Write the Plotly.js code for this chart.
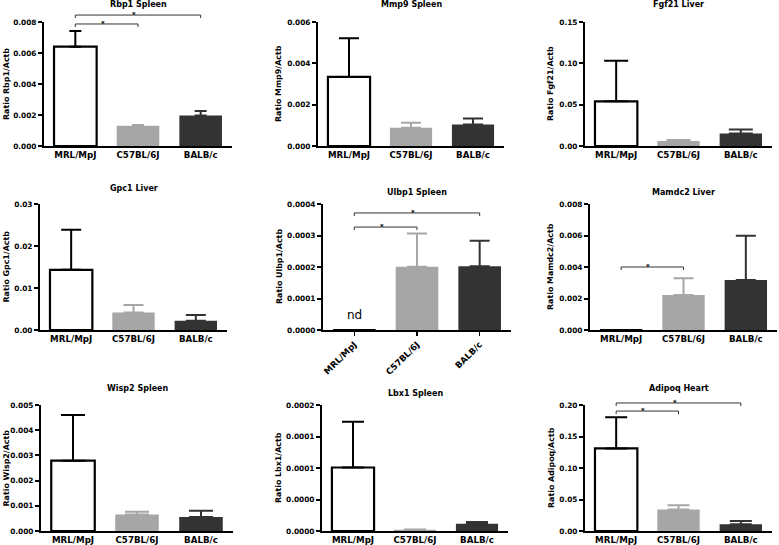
<!DOCTYPE html>
<html>
<head>
<meta charset="utf-8">
<script src="https://cdn.plot.ly/plotly-3.0.1.min.js"></script>
<style>html,body{margin:0;padding:0;background:#fff;}#chart{width:779px;height:545px;}</style>
</head>
<body>
<div id="chart"></div>
<script>
// ---- data ----
const strains = ['MRL/MpJ', 'C57BL/6J', 'BALB/c'];

const rbp1Mean = [0.00641, 0.00131, 0.00196];
const rbp1Sem  = [0.00101, 0.00004, 0.00030];

const mmp9Mean = [0.00334, 0.00088, 0.00104];
const mmp9Sem  = [0.00187, 0.00024, 0.00029];

const fgf21Mean = [0.0541, 0.0060, 0.0152];
const fgf21Sem  = [0.0490, 0.0012, 0.0049];

const gpc1Mean = [0.01432, 0.00414, 0.00223];
const gpc1Sem  = [0.00955, 0.00183, 0.00135];

const ulbp1Mean = [0, 0.000201, 0.000202];
const ulbp1Sem  = [0, 0.000105, 0.000081];

const mamdc2Mean = [0, 0.00223, 0.00318];
const mamdc2Sem  = [0, 0.00106, 0.00280];

const wisp2Mean = [0.00279, 0.00065, 0.00056];
const wisp2Sem  = [0.00181, 0.00011, 0.00024];

const lbx1Mean = [0.0001008, 0.000002, 0.0000117];
const lbx1Sem  = [0.0000727, 0.0000005, 0.0000026];
const lbx1TickVals = [0, 0.00005, 0.0001, 0.00015, 0.0002];
const lbx1TickText = ['0.0000', '0.0000', '0.0001', '0.0001', '0.0002'];

const adipoqMean = [0.131, 0.034, 0.0106];
const adipoqSem  = [0.0494, 0.0068, 0.0053];

const panelTitles = ['Rbp1 Spleen', 'Mmp9 Spleen', 'Fgf21 Liver', 'Gpc1 Liver', 'Ulbp1 Spleen',
                     'Mamdc2 Liver', 'Wisp2 Spleen', 'Lbx1 Spleen', 'Adipoq Heart'];
const yLabels = ['Ratio Rbp1/Actb', 'Ratio Mmp9/Actb', 'Ratio Fgf21/Actb', 'Ratio Gpc1/Actb', 'Ratio Ulbp1/Actb',
                 'Ratio Mamdc2/Actb', 'Ratio Wisp2/Actb', 'Ratio Lbx1/Actb', 'Ratio Adipoq/Actb'];

// significance comparisons: [panel index, from strain, to strain]
const sigComparisons = [[0, 0, 2], [0, 0, 1], [4, 0, 2], [4, 0, 1], [5, 0, 1], [8, 0, 2], [8, 0, 1]];

// ---- layout config ----
const W = 779, H = 545;
const panels = [
  {mean: rbp1Mean, sem: rbp1Sem, ymax: 0.008, dtick: 0.002, fmt: '.3f', xd: [44, 232], yd: [22, 146], ty: 4, yt: 6, cap: 6},
  {mean: mmp9Mean, sem: mmp9Sem, ymax: 0.006, dtick: 0.002, fmt: '.3f', xd: [318, 504], yd: [22, 146], ty: 5, yt: 278, cap: 10},
  {mean: fgf21Mean, sem: fgf21Sem, ymax: 0.15, dtick: 0.05, fmt: '.2f', xd: [585, 772], yd: [22, 146], ty: 5, yt: 550, cap: 12},
  {mean: gpc1Mean, sem: gpc1Sem, ymax: 0.03, dtick: 0.01, fmt: '.2f', xd: [40, 227], yd: [204, 330], ty: 188, yt: 5.5, cap: 10},
  {mean: ulbp1Mean, sem: ulbp1Sem, ymax: 0.0004, dtick: 0.0001, fmt: '.4f', xd: [323, 511], yd: [204, 330], ty: 192, yt: 279, cap: 10, rot: true},
  {mean: mamdc2Mean, sem: mamdc2Sem, ymax: 0.008, dtick: 0.002, fmt: '.3f', xd: [590, 777], yd: [204, 330], ty: 193, yt: 550, cap: 10},
  {mean: wisp2Mean, sem: wisp2Sem, ymax: 0.005, dtick: 0.001, fmt: '.3f', xd: [41, 233], yd: [405, 531], ty: 388, yt: 5.5, cap: 12},
  {mean: lbx1Mean, sem: lbx1Sem, ymax: 0.0002, tickvals: lbx1TickVals, ticktext: lbx1TickText, xd: [322, 508], yd: [405, 531], ty: 393, yt: 278, cap: 11},
  {mean: adipoqMean, sem: adipoqSem, ymax: 0.2, dtick: 0.05, fmt: '.2f', xd: [585, 772], yd: [405, 531], ty: 388, yt: 551, cap: 11}
];
// bracket heights (fraction of y axis) for each comparison in sigComparisons
const sigLevels = [1.056, 0.984, 0.929, 0.817, 0.5, 1.016, 0.952];

const fillColors = ['#ffffff', '#a6a6a6', '#333333'];
const edgeColors = ['#000000', '#a6a6a6', '#333333'];
const FONT = 'DejaVu Sans';

const px = x => x / W;
const py = y => 1 - y / H;

const traces = [];
const layout = {
  width: W, height: H,
  margin: {l: 0, r: 0, t: 0, b: 0},
  paper_bgcolor: '#ffffff', plot_bgcolor: '#ffffff',
  showlegend: false,
  barmode: 'overlay',
  annotations: [], shapes: []
};

panels.forEach((p, i) => {
  const n = i === 0 ? '' : String(i + 1);
  const xa = 'x' + n, ya = 'y' + n;
  strains.forEach((s, k) => {
    traces.push({
      type: 'bar', x: [s], y: [p.mean[k]], xaxis: xa, yaxis: ya, width: 0.68,
      marker: {color: fillColors[k], line: {color: '#000000', width: k === 0 ? 2.2 : 0}},
      error_y: {type: 'data', array: [p.sem[k]], arrayminus: [0], symmetric: false,
                color: edgeColors[k], thickness: 2, width: p.cap, visible: p.sem[k] > 0},
      hoverinfo: 'skip'
    });
  });
  layout['xaxis' + n] = {
    domain: [px(p.xd[0]), px(p.xd[1])], anchor: ya, type: 'category',
    categoryorder: 'array', categoryarray: strains, range: [-0.5, 2.5],
    showline: true, linewidth: 2, linecolor: '#000', showgrid: false, zeroline: false,
    ticks: p.rot ? 'outside' : '', ticklen: 4, tickwidth: 1.5, tickcolor: '#000',
    tickangle: p.rot ? -45 : 0,
    tickfont: {family: FONT, size: 8.7, color: '#000', weight: 'bold'}
  };
  const yax = {
    domain: [py(p.yd[1]), py(p.yd[0])], anchor: xa, range: [0, p.ymax],
    showline: true, linewidth: 2, linecolor: '#000', showgrid: false, zeroline: false,
    ticks: 'outside', ticklen: 4, tickwidth: 2, tickcolor: '#000',
    tickfont: {family: FONT, size: 7.4, color: '#000', weight: 'bold'}
  };
  if (p.tickvals) { yax.tickmode = 'array'; yax.tickvals = p.tickvals; yax.ticktext = p.ticktext; }
  else { yax.tickmode = 'linear'; yax.tick0 = 0; yax.dtick = p.dtick; yax.tickformat = p.fmt; }
  layout['yaxis' + n] = yax;

  // panel title
  layout.annotations.push({
    text: panelTitles[i], xref: 'paper', yref: 'paper',
    x: px((p.xd[0] + p.xd[1]) / 2), y: py(p.ty), xanchor: 'center', yanchor: 'middle',
    showarrow: false, font: {family: FONT, size: 8, color: '#000', weight: 'bold'}
  });
  // y axis title
  layout.annotations.push({
    text: yLabels[i], xref: 'paper', yref: 'paper', textangle: -90,
    x: px(p.yt), y: py((p.yd[0] + p.yd[1]) / 2), xanchor: 'center', yanchor: 'middle',
    showarrow: false, font: {family: FONT, size: 7.9, color: '#000', weight: 'bold'}
  });
});

// "nd" label on Ulbp1 panel
layout.annotations.push({
  text: 'nd', xref: 'x5', yref: 'y5 domain', x: 0, y: 0.12, xanchor: 'center', yanchor: 'middle',
  showarrow: false, font: {family: FONT, size: 12, color: '#000'}
});

// significance brackets
sigComparisons.forEach((c, j) => {
  const p = panels[c[0]];
  const xAt = k => px(p.xd[0] + (k + 0.5) / 3 * (p.xd[1] - p.xd[0]));
  const yLine = py(p.yd[1] - sigLevels[j] * (p.yd[1] - p.yd[0]));
  const drop = 3 / H;
  const x0 = xAt(c[1]), x1 = xAt(c[2]);
  layout.shapes.push({
    type: 'path', xref: 'paper', yref: 'paper',
    path: `M ${x0},${yLine - drop} L ${x0},${yLine} L ${x1},${yLine} L ${x1},${yLine - drop}`,
    line: {color: '#333', width: 1}
  });
  layout.annotations.push({
    text: '*', xref: 'paper', yref: 'paper', x: (x0 + x1) / 2 - 4 / W, y: yLine,
    xanchor: 'center', yanchor: 'middle', showarrow: false,
    font: {family: FONT, size: 7, color: '#000', weight: 'bold'}
  });
});

Plotly.newPlot('chart', traces, layout, {displayModeBar: false, staticPlot: true});
</script>
</body>
</html>
